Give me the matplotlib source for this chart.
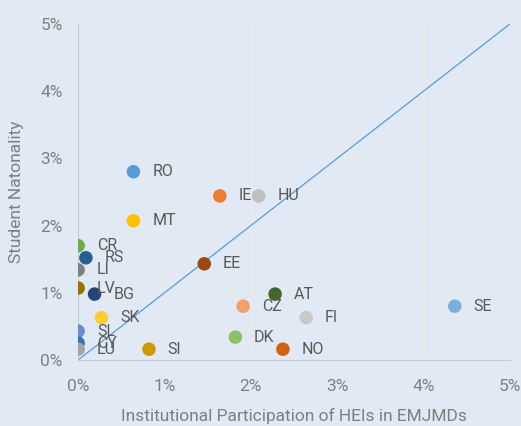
import matplotlib.pyplot as plt
from matplotlib.ticker import FuncFormatter

countries = ['RO', 'MT', 'CR', 'RS', 'LI', 'LV', 'BG', 'SK', 'SL', 'CY', 'LU', 'SI',
             'IE', 'HU', 'EE', 'AT', 'CZ', 'FI', 'DK', 'NO', 'SE']
hei_part = [0.64, 0.64, 0.0, 0.09, 0.0, 0.0, 0.19, 0.27, 0.0, 0.0, 0.0, 0.82,
            1.64, 2.09, 1.46, 2.28, 1.91, 2.64, 1.82, 2.37, 4.36]
student_nat = [2.80, 2.07, 1.70, 1.52, 1.34, 1.07, 0.98, 0.63, 0.43, 0.25, 0.16, 0.16,
               2.44, 2.44, 1.43, 0.98, 0.80, 0.63, 0.34, 0.16, 0.80]
colors = ['#5b9bd5', '#ffc000', '#70ad47', '#255e91', '#7f7f7f', '#997300', '#264478',
          '#ffcd33', '#698ed0', '#2e75b6', '#a5a5a5', '#cc9a00', '#ed7d31', '#bfbfbf',
          '#9e480e', '#43682b', '#f4a06b', '#c9c9c9', '#8cc168', '#d26012', '#7cafdd']

bg = '#e1e9f4'
plt.rcParams['font.family'] = ['Roboto', 'DejaVu Sans']

fig = plt.figure(figsize=(5.21, 4.26), dpi=100, facecolor=bg)
ax = fig.add_axes([0.150, 0.155, 0.829, 0.789], facecolor=bg)

ax.plot([0, 5], [0, 5], color='#5b9bd5', lw=0.9, zorder=2)
ax.scatter(hei_part, student_nat, s=95, c=colors, edgecolors='none', zorder=3)
for name, x, y in zip(countries, hei_part, student_nat):
    ax.annotate(name, (x, y), xytext=(13.5, 0), textcoords='offset points',
                va='center', ha='left', fontsize=11.5, color='#595959', zorder=4)

ax.set_xlim(0, 5)
ax.set_ylim(0, 5)
ax.set_xticks(range(6))
ax.set_yticks(range(6))
pct = FuncFormatter(lambda v, p: '%d%%' % v)
ax.xaxis.set_major_formatter(pct)
ax.yaxis.set_major_formatter(pct)
ax.grid(True, color='#eaebe8', lw=1, zorder=0)
ax.tick_params(length=0, labelsize=12.5, labelcolor='#7f7f7f')
ax.tick_params(axis='x', pad=14)
ax.tick_params(axis='y', pad=11)
for s in ['top', 'right']:
    ax.spines[s].set_visible(False)
for s in ['left', 'bottom']:
    ax.spines[s].set_color('#c8ccd0')
ax.set_xlabel('Institutional Participation of HEIs in EMJMDs', fontsize=12.5, color='#7f7f7f', labelpad=10)
ax.set_ylabel('Student Natonality', fontsize=12.5, color='#7f7f7f', labelpad=12)

fig.savefig('out.png', dpi=100, facecolor=bg)
